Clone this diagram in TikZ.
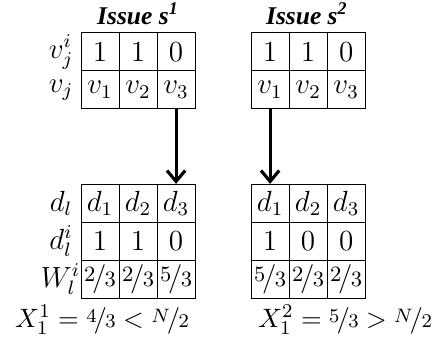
\documentclass[tikz,border=0pt]{standalone}
\usepackage{amsmath,amsfonts,amssymb}
\usepackage{fontspec}
\usepackage{nicefrac}
\usetikzlibrary{matrix,arrows,arrows.meta}
\newfontfamily\titlefont{Liberation Serif}

\tikzset{
  votetab/.style={matrix of math nodes, column sep=-\pgflinewidth, row sep=-\pgflinewidth,
    nodes={draw, minimum width=0.55cm, minimum height=0.55cm, inner sep=0pt,
      font=\fontsize{11.5}{14}\selectfont}},
  wrow/.style={nodes={font=\fontsize{13}{15}\selectfont}},
  rowlab/.style={anchor=east, minimum width=0.55cm, inner sep=0pt,
    font=\fontsize{11.5}{14}\selectfont},
  issue/.style={font=\fontsize{10.5}{12}\selectfont\titlefont\bfseries\itshape},
  link/.style={-{Straight Barb[length=4.5pt,width=7.5pt]}, line width=1.3pt}
}

\begin{document}
\begin{tikzpicture}
\useasboundingbox (0,0) rectangle (6.35,4.99);
% issue s^1
\node[issue] (title1) at (1.997,4.79) {Issue s\textsuperscript{1}};
\matrix (t1) [votetab] at (1.997,3.965) {
  1 & 1 & 0 \\
  v_1 & v_2 & v_3 \\
};
\node[rowlab] (lv1) at (t1-1-1.west) {$v_j^i$};
\node[rowlab] (lv2) at (t1-2-1.west) {$v_j$};

% issue s^2
\node[issue] (title2) at (4.44,4.79) {Issue s\textsuperscript{2}};
\matrix (t2) [votetab] at (4.457,3.965) {
  1 & 1 & 0 \\
  v_1 & v_2 & v_3 \\
};

% delegations
\matrix (b1) [votetab, row 3/.style={wrow}] at (1.997,1.498) {
  d_1 & d_2 & d_3 \\
  1 & 1 & 0 \\
  \nicefrac{2}{3} & \nicefrac{2}{3} & \nicefrac{5}{3} \\
};
\node[rowlab] (ld1) at (b1-1-1.west) {$d_l$};
\node[rowlab] (ld2) at (b1-2-1.west) {$d_l^i$};
\node[rowlab] (ld3) at (b1-3-1.west) {$W_l^i$};

\matrix (b2) [votetab, row 3/.style={wrow}] at (4.457,1.498) {
  d_1 & d_2 & d_3 \\
  1 & 0 & 0 \\
  \nicefrac{5}{3} & \nicefrac{2}{3} & \nicefrac{2}{3} \\
};

\draw[link] (t1-2-3.south) -- (b1-1-3.north);
\draw[link] (t2-2-1.south) -- (b2-1-1.north);

\node[font=\fontsize{11}{13}\selectfont] (res1) at (1.476,0.362) {$X_1^1 = \nicefrac{4}{3} < \nicefrac{N}{2}$};
\node[font=\fontsize{11}{13}\selectfont] (res2) at (4.99,0.362) {$X_1^2 = \nicefrac{5}{3} > \nicefrac{N}{2}$};
\end{tikzpicture}
\end{document}
